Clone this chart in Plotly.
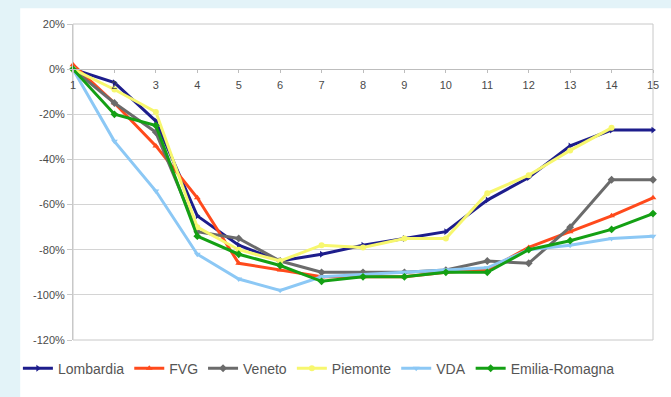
import plotly.graph_objects as go

weeks = list(range(1, 16))
tick_labels = [str(w) for w in weeks]

lombardia = [0, -6, -23, -65, -78, -85, -82, -78, -75, -72, -58, -48, -34, -27, -27]
fvg = [2, -15, -34, -57, -86, -89, -92, -92, -92, -90, -89, -79, -72, -65, -57]
veneto = [0, -15, -28, -72, -75, -85, -90, -90, -90, -89, -85, -86, -70, -49, -49]
piemonte = [0, -9, -19, -70, -80, -85, -78, -79, -75, -75, -55, -47, -36, -26, None]
vda = [0, -32, -54, -82, -93, -98, -92, -91, -90, -89, -88, -80, -78, -75, -74]
emilia = [0, -20, -25, -74, -82, -87, -94, -92, -92, -90, -90, -80, -76, -71, -64]

y_ticks = [20, 0, -20, -40, -60, -80, -100, -120]
y_labels = ["20%", "0%", "-20%", "-40%", "-60%", "-80%", "-100%", "-120%"]

series = [
    ("Lombardia", lombardia, "#1d1d8c", "triangle-right"),
    ("FVG", fvg, "#ff4a1c", "triangle-up"),
    ("Veneto", veneto, "#6b6b6b", "diamond"),
    ("Piemonte", piemonte, "#f7f76e", "circle"),
    ("VDA", vda, "#8cc8f5", "triangle-down"),
    ("Emilia-Romagna", emilia, "#14a014", "diamond"),
]

fig = go.Figure()
for name, vals, color, sym in series:
    fig.add_trace(go.Scatter(
        x=weeks, y=vals, name=name, mode="lines+markers",
        line=dict(color=color, width=3),
        marker=dict(color=color, symbol=sym, size=6),
        cliponaxis=False,
    ))

# white card over the pale blue page
fig.add_shape(type="rect", xref="paper", yref="paper",
              x0=-0.091, x1=1.1, y0=-0.3, y1=1.05,
              fillcolor="white", line=dict(width=0), layer="below")
# frame around the plotting area
fig.add_shape(type="rect", xref="paper", yref="paper",
              x0=0, x1=1, y0=0, y1=1,
              line=dict(color="#c8c8c8", width=1), layer="below")

zero_pos = (0 - (-120)) / (20 - (-120))

fig.update_layout(
    width=671, height=397,
    margin=dict(l=73, r=16, t=24, b=46),
    paper_bgcolor="#e3f3f8",
    plot_bgcolor="white",
    font=dict(family="Liberation Sans, Arial, sans-serif", size=11, color="#555555"),
    xaxis=dict(
        range=[1, 15], tickmode="array", tickvals=weeks, ticktext=tick_labels,
        anchor="free", position=zero_pos,
        showline=True, linecolor="#bdbdbd", linewidth=1,
        showgrid=False, zeroline=False,
        ticks="outside", ticklen=3, tickcolor="#bdbdbd",
        ticklabelstandoff=3,
        tickfont=dict(size=11, color="#4a4a4a"),
    ),
    yaxis=dict(
        range=[-120, 20], tickmode="array", tickvals=y_ticks, ticktext=y_labels,
        showgrid=True, gridcolor="#d4d4d4", gridwidth=1,
        zeroline=False, showline=True, linecolor="#c8c8c8",
        ticks="outside", ticklen=5, tickcolor="#c8c8c8",
        tickfont=dict(size=11, color="#4a4a4a"),
    ),
    legend=dict(
        orientation="h", x=-0.095, xanchor="left",
        y=-0.04, yanchor="top",
        font=dict(size=14, color="#555555"), bgcolor="rgba(0,0,0,0)",
        itemwidth=30, tracegroupgap=0,
    ),
)

fig.write_html("out.html")
